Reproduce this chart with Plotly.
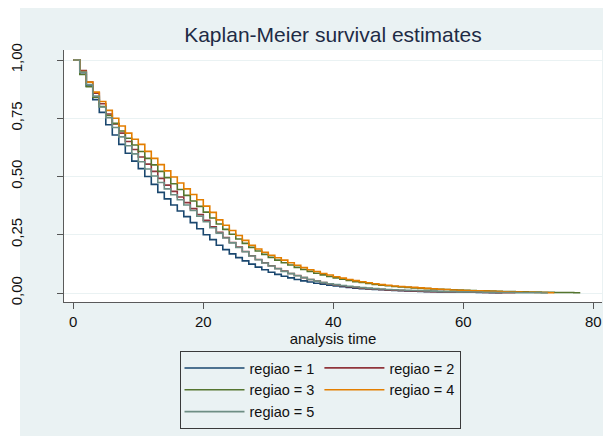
import plotly.graph_objects as go

# Kaplan-Meier survival estimates by region, one value per integer analysis time (t = 0, 1, 2, ...)
surv_regiao_1 = [
    1.000, 0.945, 0.888, 0.830, 0.775, 0.722, 0.678, 0.638, 0.600, 0.566,
    0.534, 0.500, 0.466, 0.432, 0.404, 0.378, 0.352, 0.328, 0.302, 0.276,
    0.250, 0.229, 0.205, 0.186, 0.168, 0.152, 0.138, 0.124, 0.111, 0.100,
    0.089, 0.080, 0.072, 0.065, 0.058, 0.052, 0.047, 0.042, 0.038, 0.034,
    0.030, 0.027, 0.024, 0.021, 0.019, 0.017, 0.015, 0.014, 0.012, 0.011,
    0.010, 0.009, 0.008, 0.007, 0.006, 0.006, 0.005, 0.005, 0.004, 0.004,
    0.003, 0.003, 0.002, 0.002, 0.001, 0.001, 0.000,
]
surv_regiao_2 = [
    1.000, 0.955, 0.905, 0.858, 0.812, 0.768, 0.726, 0.686, 0.650, 0.616,
    0.584, 0.553, 0.522, 0.492, 0.463, 0.436, 0.412, 0.388, 0.362, 0.337,
    0.312, 0.284, 0.260, 0.238, 0.217, 0.197, 0.178, 0.160, 0.144, 0.130,
    0.117, 0.105, 0.094, 0.084, 0.075, 0.066, 0.058, 0.051, 0.045, 0.040,
    0.035, 0.031, 0.027, 0.024, 0.021, 0.019, 0.017, 0.015, 0.013, 0.012,
    0.011, 0.010, 0.009, 0.008, 0.007, 0.006, 0.006, 0.005, 0.005, 0.004,
    0.004, 0.003, 0.003, 0.002, 0.002, 0.001, 0.001, 0.001, 0.000,
]
surv_regiao_3 = [
    1.000, 0.938, 0.885, 0.840, 0.800, 0.762, 0.728, 0.695, 0.664, 0.635,
    0.607, 0.578, 0.550, 0.522, 0.495, 0.469, 0.444, 0.419, 0.395, 0.372,
    0.347, 0.322, 0.296, 0.273, 0.252, 0.232, 0.213, 0.196, 0.180, 0.166,
    0.153, 0.141, 0.130, 0.120, 0.110, 0.101, 0.093, 0.085, 0.078, 0.071,
    0.065, 0.059, 0.054, 0.049, 0.045, 0.041, 0.037, 0.034, 0.031, 0.028,
    0.026, 0.024, 0.022, 0.020, 0.019, 0.017, 0.016, 0.015, 0.014, 0.013,
    0.012, 0.011, 0.010, 0.009, 0.008, 0.007, 0.006, 0.006, 0.005, 0.005,
    0.004, 0.004, 0.003, 0.003, 0.002, 0.002, 0.002, 0.001, 0.001,
]
surv_regiao_4 = [
    1.000, 0.950, 0.905, 0.862, 0.822, 0.784, 0.750, 0.717, 0.686, 0.660,
    0.638, 0.608, 0.578, 0.551, 0.524, 0.498, 0.472, 0.447, 0.423, 0.400,
    0.373, 0.346, 0.314, 0.291, 0.268, 0.247, 0.226, 0.205, 0.189, 0.175,
    0.162, 0.151, 0.141, 0.130, 0.119, 0.109, 0.100, 0.092, 0.084, 0.077,
    0.070, 0.064, 0.058, 0.053, 0.048, 0.044, 0.040, 0.036, 0.033, 0.030,
    0.028, 0.026, 0.024, 0.022, 0.020, 0.018, 0.016, 0.015, 0.013, 0.012,
    0.011, 0.010, 0.009, 0.008, 0.007, 0.006, 0.005, 0.004, 0.004, 0.003,
    0.003, 0.002, 0.002, 0.001, 0.001,
]
surv_regiao_5 = [
    1.000, 0.948, 0.895, 0.845, 0.798, 0.752, 0.710, 0.670, 0.632, 0.597,
    0.563, 0.532, 0.502, 0.474, 0.447, 0.422, 0.400, 0.378, 0.354, 0.330,
    0.306, 0.280, 0.257, 0.236, 0.215, 0.195, 0.177, 0.159, 0.143, 0.129,
    0.116, 0.104, 0.093, 0.083, 0.074, 0.066, 0.058, 0.051, 0.045, 0.040,
    0.036, 0.032, 0.029, 0.026, 0.023, 0.021, 0.019, 0.017, 0.015, 0.014,
    0.013, 0.012, 0.011, 0.010, 0.009, 0.008, 0.007, 0.006, 0.006, 0.005,
    0.005, 0.004, 0.004, 0.003, 0.003, 0.002, 0.002, 0.002, 0.001, 0.001,
    0.001, 0.001, 0.000, 0.000,
]

series_names = ["regiao = 1", "regiao = 2", "regiao = 3", "regiao = 4", "regiao = 5"]
series_values = [surv_regiao_1, surv_regiao_2, surv_regiao_3, surv_regiao_4, surv_regiao_5]
series_colors = ["#1a476f", "#90353b", "#55752f", "#e37e00", "#6e8e84"]
# legend columns: 1/3/5 on the left, 2/4 on the right
legend_columns = ["left", "right", "left", "right", "left"]

x_tick_values = [0, 20, 40, 60, 80]
y_tick_values = [0, 0.25, 0.5, 0.75, 1.0]
y_tick_labels = ["0,00", "0,25", "0,50", "0,75", "1,00"]

W, H = 603, 436
L, R, T, B = 64, 1, 50, 134
plot_w = W - L - R
plot_h = H - T - B

BG = "#eaf2f3"
FONT = "Liberation Sans, Arial, sans-serif"

fig = go.Figure()
for name, vals, color, col in zip(series_names, series_values, series_colors, legend_columns):
    fig.add_trace(go.Scatter(
        x=list(range(len(vals))),
        y=vals,
        mode="lines",
        line=dict(color=color, width=1.6, shape="hv"),
        name=name,
        legendgroup=col,
    ))

# outer graph region and the white plot region
fig.add_shape(type="rect", xref="paper", yref="paper",
              x0=(20 - L) / plot_w, x1=(W - L) / plot_w,
              y0=-(H - (H - B)) / plot_h, y1=(H - B - 8) / plot_h,
              fillcolor=BG, line=dict(width=0), layer="below")
fig.add_shape(type="rect", xref="paper", yref="paper",
              x0=0, x1=1, y0=0, y1=1,
              fillcolor="white", line=dict(width=0), layer="below")

fig.update_layout(
    width=W, height=H,
    margin=dict(l=L, r=R, t=T, b=B, pad=0),
    paper_bgcolor="white",
    plot_bgcolor="white",
    font=dict(family=FONT, size=15, color="#111111"),
    title=dict(text="Kaplan-Meier survival estimates",
               font=dict(family=FONT, size=21, color="#1e2b45"),
               x=(333 - L) / plot_w, xref="paper", xanchor="center",
               y=1 - 35 / H, yref="container", yanchor="middle"),
    showlegend=True,
    legend=dict(
        orientation="h", traceorder="grouped",
        x=(320 - L) / plot_w, xanchor="center",
        y=-(351 - (H - B)) / plot_h, yanchor="top",
        bgcolor=BG, bordercolor="#3a3a3a", borderwidth=1,
        font=dict(family=FONT, size=14.5, color="#111111"),
        itemwidth=60, tracegroupgap=0,
    ),
)

fig.update_xaxes(
    range=[-1.43, 81.34],
    tickvals=x_tick_values,
    ticks="outside", ticklen=6, tickwidth=1.2, tickcolor="#555555",
    showline=True, linecolor="#5a5a5a", linewidth=1.4,
    showgrid=False, zeroline=False, automargin=False,
    tickfont=dict(family=FONT, size=15, color="#111111"),
    title=dict(text="analysis time", standoff=2,
               font=dict(family=FONT, size=15, color="#111111")),
)
fig.update_yaxes(
    range=[-0.0386, 1.0429],
    tickvals=y_tick_values, ticktext=y_tick_labels,
    tickangle=-90,
    ticks="outside", ticklen=6, tickwidth=1.2, tickcolor="#555555",
    ticklabelstandoff=29,
    showline=True, linecolor="#5a5a5a", linewidth=1.4,
    showgrid=True, gridcolor=BG, gridwidth=1.2,
    zeroline=False, automargin=False,
    tickfont=dict(family=FONT, size=15, color="#111111"),
)

fig.write_html("out.html")
